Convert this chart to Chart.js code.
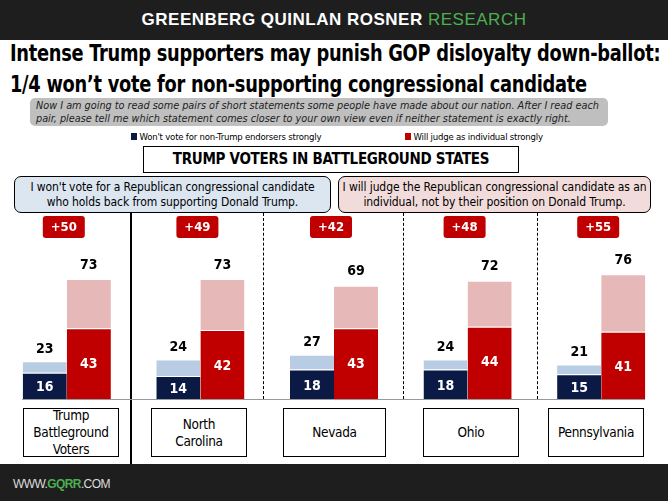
<!DOCTYPE html>
<html><head><meta charset="utf-8">
<script src="https://cdn.jsdelivr.net/npm/chart.js@4"></script>
<style>
body{margin:0;width:668px;height:501px;position:relative;background:#fff;font-family:"DejaVu Sans Condensed","Liberation Sans",sans-serif;overflow:hidden}
.a{position:absolute;white-space:nowrap}
.hdr{left:0;top:0;width:668px;height:40px;background:#1e1e1e;color:#fff;font:bold 17px "Liberation Sans",sans-serif;text-align:center;line-height:40px;letter-spacing:0.5px}
.title{left:10px;top:38px;font:bold 23px "DejaVu Sans Condensed",sans-serif;line-height:31px;color:#000;transform-origin:0 0;transform:scaleX(0.86);letter-spacing:-0.3px}
.q{left:30px;top:98px;width:578px;height:28px;background:#bfbfbf;border-radius:5px;color:#222;padding:1px 6px;box-sizing:border-box}
.q div{font:italic 11px "DejaVu Sans Condensed",sans-serif;line-height:13px;transform-origin:0 0;transform:scaleX(0.98)}
.box{border:1px solid #000;text-align:center;box-sizing:border-box}
.cat{top:408px;height:49px;font-size:13.5px;display:flex;align-items:center;justify-content:center;line-height:17px;letter-spacing:-0.3px}
.sm{font-size:12px;line-height:15px;padding-top:3px;letter-spacing:-0.1px}
.lg{top:131px;font-size:9.5px;letter-spacing:-0.2px}
</style></head><body>
<div class="a hdr">GREENBERG QUINLAN ROSNER <span style="color:#4caf50;font-weight:normal">RESEARCH</span></div>
<div class="a title">Intense Trump supporters may punish GOP disloyalty down-ballot:<br>1/4 won’t vote for non-supporting congressional candidate</div>
<div class="a q"><div>Now I am going to read some pairs of short statements some people have made about our nation. After I read each<br>pair, please tell me which statement comes closer to your own view even if neither statement is exactly right.</div></div>
<div class="a lg" style="left:131px"><span style="display:inline-block;width:6px;height:7px;background:#0a1a44"></span> Won't vote for non-Trump endorsers strongly</div>
<div class="a lg" style="left:405px"><span style="display:inline-block;width:6px;height:7px;background:#c00000"></span> Will judge as individual strongly</div>
<div class="a box" style="left:143px;top:146px;width:376px;height:27px;font:bold 15px 'DejaVu Sans Condensed',sans-serif;line-height:25px;letter-spacing:-0.3px">TRUMP VOTERS IN BATTLEGROUND STATES</div>
<div class="a box sm" style="left:14px;top:176px;width:317px;height:37px;background:#dce6f1;border-radius:7px">I won't vote for a Republican congressional candidate<br>who holds back from supporting Donald Trump.</div>
<div class="a box sm" style="left:338px;top:176px;width:313px;height:37px;background:#f2dcdb;border-radius:7px">I will judge the Republican congressional candidate as an<br>individual, not by their position on Donald Trump.</div>
<div class="a" style="left:130px;top:213px;width:2px;height:251px;background:#000"></div>
<div class="a" style="left:263px;top:213px;height:186px;border-left:1px dashed #000"></div>
<div class="a" style="left:403px;top:213px;height:186px;border-left:1px dashed #000"></div>
<div class="a" style="left:537px;top:213px;height:186px;border-left:1px dashed #000"></div>
<div class="a" style="left:0;top:215px;width:668px;height:185px"><canvas id="c"></canvas></div>
<div class="a box cat" style="left:23px;width:96px">Trump<br>Battleground<br>Voters</div>
<div class="a box cat" style="left:151px;width:96px">North<br>Carolina</div>
<div class="a box cat" style="left:283px;width:103px">Nevada</div>
<div class="a box cat" style="left:423px;width:96px">Ohio</div>
<div class="a box cat" style="left:548px;width:96px">Pennsylvania</div>
<div class="a" style="left:0;top:464px;width:668px;height:37px;background:#1e1e1e"></div>
<div class="a" style="left:13px;top:477px;color:#ddd;font:12px 'Liberation Sans',sans-serif;letter-spacing:-0.6px">WWW.<b style="color:#4caf50">GQRR</b>.COM</div>
<script>
const categories = ['Trump Battleground Voters', 'North Carolina', 'Nevada', 'Ohio', 'Pennsylvania'];
const wontStrong = [16, 14, 18, 18, 15];
const wontTotal = [23, 24, 27, 24, 21];
const judgeStrong = [43, 42, 43, 44, 41];
const judgeTotal = [73, 73, 69, 72, 76];
const diffLabels = ['+50', '+49', '+42', '+48', '+55'];

const rest = (t, s) => t.map((v, i) => v - s[i]);

const labels = {
  id: 'labels',
  afterDatasetsDraw(chart) {
    const ctx = chart.ctx;
    ctx.save();
    ctx.textAlign = 'center';
    ctx.textBaseline = 'middle';
    const f = 'bold 14px "DejaVu Sans Condensed", sans-serif';
    ctx.font = f;
    const m = i => chart.getDatasetMeta(i).data;
    categories.forEach((c, i) => {
      const bs = m(0)[i], bt = m(1)[i], rs = m(2)[i], rt = m(3)[i];
      ctx.fillStyle = '#fff';
      ctx.fillText(wontStrong[i], bs.x, (bs.y + bs.base) / 2 + 2);
      ctx.fillText(judgeStrong[i], rs.x, rs.y + 36);
      ctx.fillStyle = '#000';
      ctx.fillText(wontTotal[i], bt.x, bt.y - 12);
      ctx.fillText(judgeTotal[i], rt.x, rt.y - 14);
      const cx = (bs.x + rs.x) / 2 - 3;
      ctx.fillStyle = '#c00000';
      ctx.beginPath();
      ctx.roundRect(cx - 21, 1, 42, 22, 3);
      ctx.fill();
      ctx.fillStyle = '#fff';
      ctx.font = 'bold 13px "DejaVu Sans Condensed", sans-serif';
      ctx.fillText(diffLabels[i], cx, 12.5);
      ctx.font = f;
    });
    const a = chart.chartArea;
    ctx.strokeStyle = '#999';
    ctx.lineWidth = 1;
    ctx.beginPath();
    ctx.moveTo(22, a.bottom + 0.5);
    ctx.lineTo(645, a.bottom + 0.5);
    ctx.stroke();
    ctx.restore();
  }
};

new Chart(document.getElementById('c'), {
  type: 'bar',
  data: {
    labels: categories,
    datasets: [
      { data: wontStrong, backgroundColor: '#0a1a44', stack: 'w' },
      { data: rest(wontTotal, wontStrong), backgroundColor: '#b8cce4', stack: 'w' },
      { data: judgeStrong, backgroundColor: '#c00000', stack: 'j' },
      { data: rest(judgeTotal, judgeStrong), backgroundColor: '#e6b9b8', stack: 'j' }
    ]
  },
  options: {
    responsive: true,
    maintainAspectRatio: false,
    animation: false,
    layout: { padding: { left: 0, right: 0, top: 0, bottom: 1 } },
    datasets: { bar: { categoryPercentage: 0.66, barPercentage: 1, borderColor: '#fff', borderWidth: { top: 1 } } },
    plugins: { legend: { display: false }, tooltip: { enabled: false } },
    scales: {
      x: { display: false, stacked: true },
      y: { display: false, stacked: true, min: 0, max: 112 }
    }
  },
  plugins: [labels]
});
</script>
</body></html>
